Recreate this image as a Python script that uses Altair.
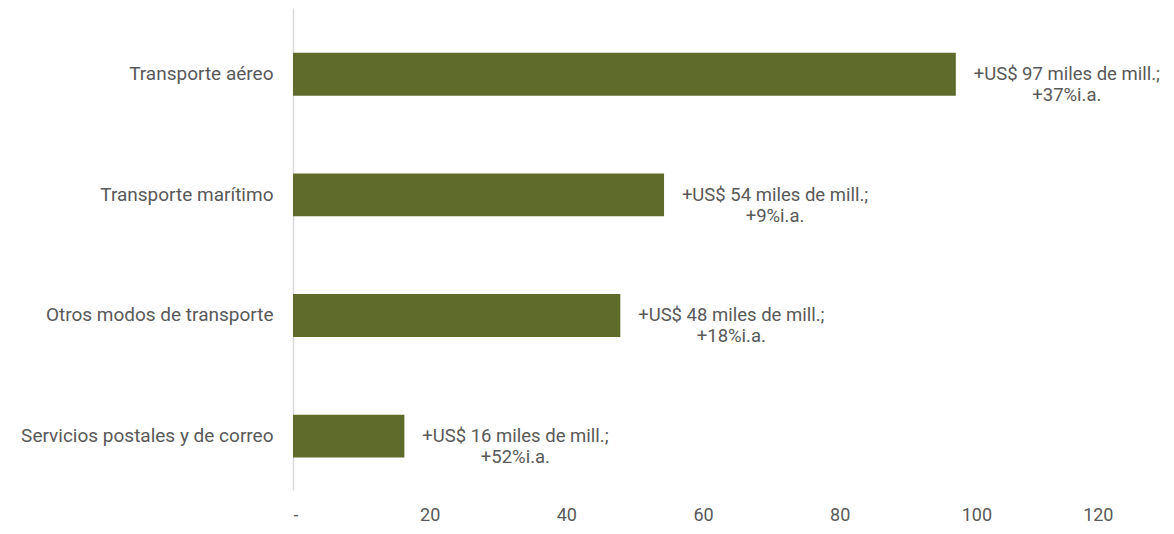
import altair as alt
import pandas as pd

categories = ["Transporte aéreo", "Transporte marítimo", "Otros modos de transporte", "Servicios postales y de correo"]
values = [97.0, 54.3, 47.9, 16.3]
labels = [
    "+US$ 97 miles de mill.;\n+37%i.a.",
    "+US$ 54 miles de mill.;\n+9%i.a.",
    "+US$ 48 miles de mill.;\n+18%i.a.",
    "+US$ 16 miles de mill.;\n+52%i.a.",
]
x_ticks = [0, 20, 40, 60, 80, 100, 120]

df = pd.DataFrame({"cat": categories, "val": values, "label": labels})

FONT = "Roboto"
GREY = "#595959"

y = alt.Y("cat:N", sort=categories, title=None,
          scale=alt.Scale(paddingInner=0.644, paddingOuter=0.32, align=0.58),
          axis=alt.Axis(domain=True, domainColor="#d9d9d9", domainWidth=1.5, ticks=False,
                        labelFont=FONT, labelFontSize=19, labelColor=GREY, labelPadding=20,
                        labelLimit=300))
x = alt.X("val:Q", title=None,
          scale=alt.Scale(domain=[0, 120], nice=False),
          axis=alt.Axis(values=x_ticks, domain=False, ticks=False, grid=False,
                        labelFont=FONT, labelFontSize=18, labelColor=GREY, labelPadding=16,
                        labelExpr="datum.value == 0 ? '-' : datum.label"))

bars = alt.Chart(df).mark_bar(color="#5f6b2b").encode(x=x, y=y)
text = alt.Chart(df).mark_text(align="center", baseline="middle", dx=111, lineBreak="\n",
                               lineHeight=21, font=FONT, fontSize=18.5, color=GREY).encode(
    x="val:Q", y=alt.Y("cat:N", sort=categories), text="label:N")

chart = (bars + text).properties(
    width=820, height=482,
    autosize=alt.AutoSizeParams(type="none"),
    padding={"left": 285, "top": 0, "right": 53, "bottom": 36},
).configure_view(stroke=None)

chart.save("out.html", embed_options={"renderer": "svg", "actions": False})
